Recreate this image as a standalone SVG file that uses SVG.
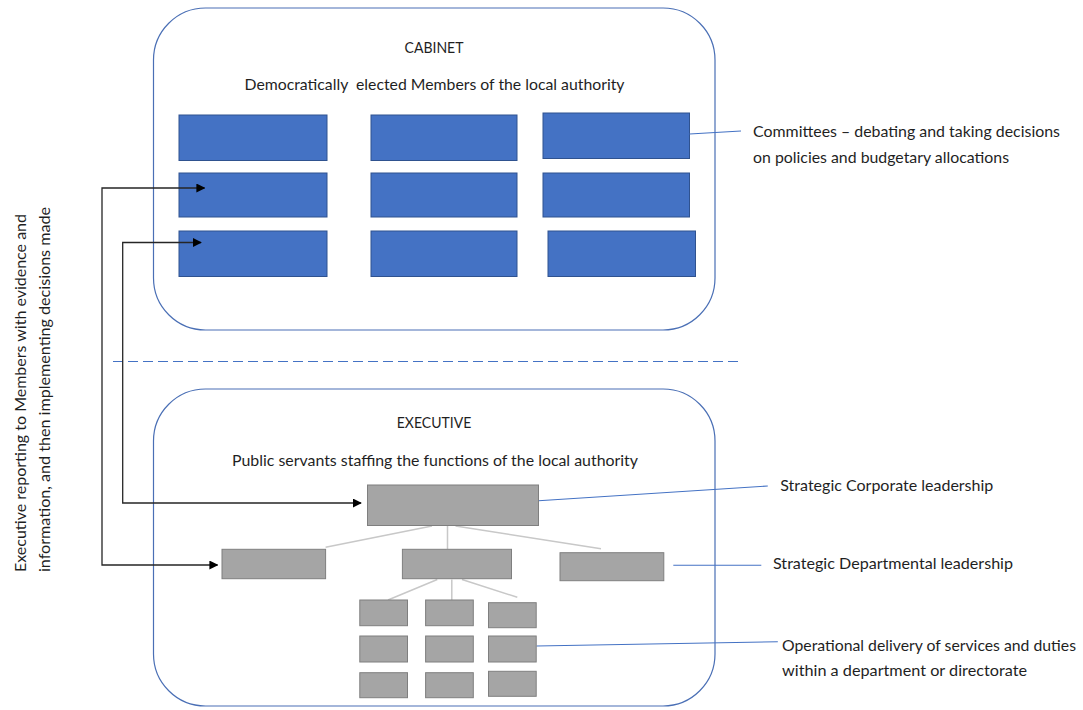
<svg xmlns="http://www.w3.org/2000/svg" width="1083" height="710" viewBox="0 0 1083 710">
<defs>
<style>
.t{font-family:Lato,"Liberation Sans",sans-serif;font-size:15px;fill:#1f1f1f}
.c{text-anchor:middle}
.box{fill:#fff;stroke:#4a6fb5;stroke-width:1.2}
.blue{fill:#4472C4;stroke:#2F528F;stroke-width:1}
.gray{fill:#A5A5A5;stroke:#7F7F7F;stroke-width:1}
.tree{fill:none;stroke:#C8C8C8;stroke-width:1.5}
.lead{fill:none;stroke:#4472C4;stroke-width:1.1}
.arr{fill:none;stroke:#262626;stroke-width:1.3;marker-start:url(#ah);marker-end:url(#ah)}
.dash{fill:none;stroke:#4472C4;stroke-width:1;stroke-dasharray:10 5}
</style>
<marker id="ah" viewBox="0 0 10 10" refX="9" refY="5" markerWidth="9" markerHeight="9" markerUnits="userSpaceOnUse" orient="auto-start-reverse">
<path d="M0,0 L10,5 L0,10 Z" fill="#000"/>
</marker>
</defs>

<g id="cabinet">
<rect class="box" x="153.5" y="8" width="561.5" height="322" rx="52"/>
<text class="t c" x="434" y="53" textLength="59" lengthAdjust="spacingAndGlyphs">CABINET</text>
<text class="t c" x="434.5" y="90" xml:space="preserve" textLength="380" lengthAdjust="spacingAndGlyphs">Democratically  elected Members of the local authority</text>
</g>

<g id="committees">
<rect id="c11" class="blue" x="179" y="115" width="148" height="45.5"/>
<rect id="c12" class="blue" x="371" y="115" width="146" height="45.5"/>
<rect id="c13" class="blue" x="543" y="113" width="146.5" height="45.5"/>
<rect id="c21" class="blue" x="179" y="173" width="148" height="44"/>
<rect id="c22" class="blue" x="371" y="173" width="146" height="44"/>
<rect id="c23" class="blue" x="543" y="173" width="146.5" height="44"/>
<rect id="c31" class="blue" x="179" y="231" width="148" height="45.5"/>
<rect id="c32" class="blue" x="371" y="231" width="146" height="45.5"/>
<rect id="c33" class="blue" x="548" y="231" width="147.5" height="45.5"/>
</g>

<g id="divider">
<line class="dash" x1="113" y1="361.5" x2="738" y2="361.5"/>
</g>

<g id="executive">
<rect class="box" x="153.5" y="389" width="561.5" height="317" rx="52"/>
<text class="t c" x="434" y="428" textLength="74.5" lengthAdjust="spacingAndGlyphs">EXECUTIVE</text>
<text class="t c" x="435" y="466" textLength="406" lengthAdjust="spacingAndGlyphs">Public servants staffing the functions of the local authority</text>
</g>

<g id="connectors">
<path class="tree" d="M432,526 L325.6,547.3 M447.5,526 V549 M455.5,526 L601,548.7"/>
<path class="tree" d="M437.3,579.5 L388,600 M451.8,579.5 V600 M462,579.5 L517.3,597.3"/>
<path class="lead" d="M689.5,134 L741,131"/>
<path class="lead" d="M538.5,500.7 L767.8,486"/>
<path class="lead" d="M673.3,565.3 H761.3"/>
<path class="lead" d="M536.5,646 L777.8,641.7"/>
<path class="arr" d="M204.5,188 H102 V565 H217.5"/>
<path class="arr" d="M201,242.5 H122.7 V503 H361"/>
</g>

<g id="corporate">
<rect class="gray" x="367.5" y="485" width="171" height="40.5"/>
</g>
<g id="departments">
<rect id="d1" class="gray" x="222" y="549.3" width="103.6" height="29.4"/>
<rect id="d2" class="gray" x="402.4" y="549.3" width="109.1" height="29.4"/>
<rect id="d3" class="gray" x="560" y="552.7" width="103.8" height="28"/>
</g>
<g id="operations">
<rect id="o11" class="gray" x="359.8" y="600" width="47.7" height="25.7"/>
<rect id="o12" class="gray" x="425.6" y="600" width="47.7" height="25.7"/>
<rect id="o13" class="gray" x="488.5" y="602.7" width="47.7" height="25"/>
<rect id="o21" class="gray" x="359.8" y="636" width="47.7" height="26"/>
<rect id="o22" class="gray" x="425.6" y="636" width="47.7" height="26"/>
<rect id="o23" class="gray" x="488.5" y="636" width="47.7" height="26"/>
<rect id="o31" class="gray" x="359.8" y="672.7" width="47.7" height="25"/>
<rect id="o32" class="gray" x="425.6" y="672.7" width="47.7" height="25"/>
<rect id="o33" class="gray" x="488.5" y="671.3" width="47.7" height="25"/>
</g>

<g id="label-committees">
<text class="t" x="753" y="136.7" textLength="307" lengthAdjust="spacingAndGlyphs">Committees – debating and taking decisions</text>
<text class="t" x="753" y="162.7" textLength="256" lengthAdjust="spacingAndGlyphs">on policies and budgetary allocations</text>
</g>
<g id="label-corporate">
<text class="t" x="780.3" y="490.5" textLength="213" lengthAdjust="spacingAndGlyphs">Strategic Corporate leadership</text>
</g>
<g id="label-departmental">
<text class="t" x="773" y="569" textLength="240" lengthAdjust="spacingAndGlyphs">Strategic Departmental leadership</text>
</g>
<g id="label-operational">
<text class="t" x="782" y="650.7" textLength="294" lengthAdjust="spacingAndGlyphs">Operational delivery of services and duties</text>
<text class="t" x="782" y="676" textLength="245" lengthAdjust="spacingAndGlyphs">within a department or directorate</text>
</g>
<g id="label-reporting">
<text class="t" transform="translate(26,572) rotate(-90)" textLength="358" lengthAdjust="spacingAndGlyphs">Executive reporting to Members with evidence and</text>
<text class="t" transform="translate(50,572) rotate(-90)" textLength="365" lengthAdjust="spacingAndGlyphs">information, and then implementing decisions made</text>
</g>
</svg>
